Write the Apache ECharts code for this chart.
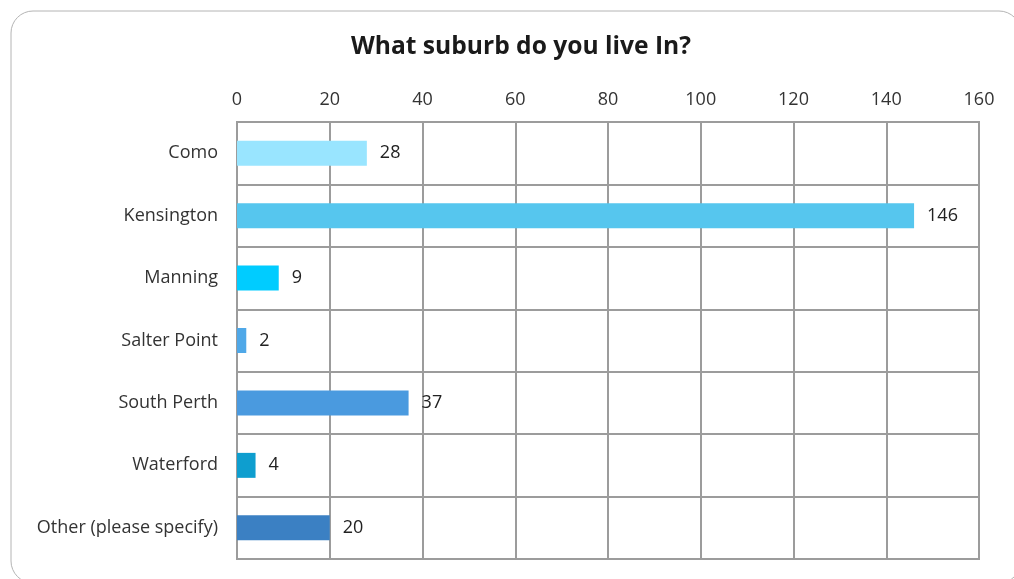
<!DOCTYPE html>
<html>
<head>
<meta charset="utf-8">
<script src="https://cdn.jsdelivr.net/npm/echarts@6/dist/echarts.min.js"></script>
<style>
html,body{margin:0;padding:0;background:#fff;}
#chart{width:1014px;height:579px;}
</style>
</head>
<body>
<div id="chart"></div>
<script>
const categories = ["Como", "Kensington", "Manning", "Salter Point", "South Perth", "Waterford", "Other (please specify)"];
const values = [28, 146, 9, 2, 37, 4, 20];
const barColors = ["#99E5FF", "#56C6EE", "#00CCFF", "#4FA8E8", "#4A9ADF", "#0E9ECF", "#3B80C3"];
const xTicks = { min: 0, max: 160, interval: 20 };

const chart = echarts.init(document.getElementById('chart'));
const gridColor = '#9c9c9c';
chart.setOption({
  animation: false,
  backgroundColor: '#fff',
  graphic: [{
    type: 'rect',
    shape: { x: 11, y: 11, width: 1010, height: 572, r: 22 },
    style: { fill: 'none', stroke: '#b4b4b4', lineWidth: 1 },
    silent: true, z: -1
  }],
  title: {
    text: 'What suburb do you live In?',
    left: 346,
    top: 29,
    textStyle: { fontFamily: 'Open Sans', fontWeight: 'bold', fontSize: 24.6, color: '#1a1a1a' }
  },
  grid: { left: 237, right: 35, top: 122, bottom: 20, show: true, borderColor: gridColor, borderWidth: 2 },
  xAxis: {
    type: 'value',
    position: 'top',
    min: xTicks.min, max: xTicks.max, interval: xTicks.interval,
    axisLine: { show: false },
    axisTick: { show: false },
    axisLabel: { fontFamily: 'Open Sans', fontSize: 18, color: '#333', margin: 13 },
    splitLine: { show: true, lineStyle: { color: gridColor, width: 2 } }
  },
  yAxis: {
    type: 'category',
    data: categories,
    inverse: true,
    axisLine: { show: false },
    axisTick: { show: false },
    axisLabel: { fontFamily: 'Open Sans', fontSize: 18, color: '#333', margin: 19 },
    splitLine: { show: true, lineStyle: { color: gridColor, width: 2 } }
  },
  series: [{
    type: 'bar',
    data: values.map((v, i) => ({ value: v, itemStyle: { color: barColors[i] } })),
    barWidth: '40%',
    label: { show: true, position: 'right', distance: 13, fontFamily: 'Open Sans', fontSize: 18, color: '#222' }
  }]
});
</script>
</body>
</html>
